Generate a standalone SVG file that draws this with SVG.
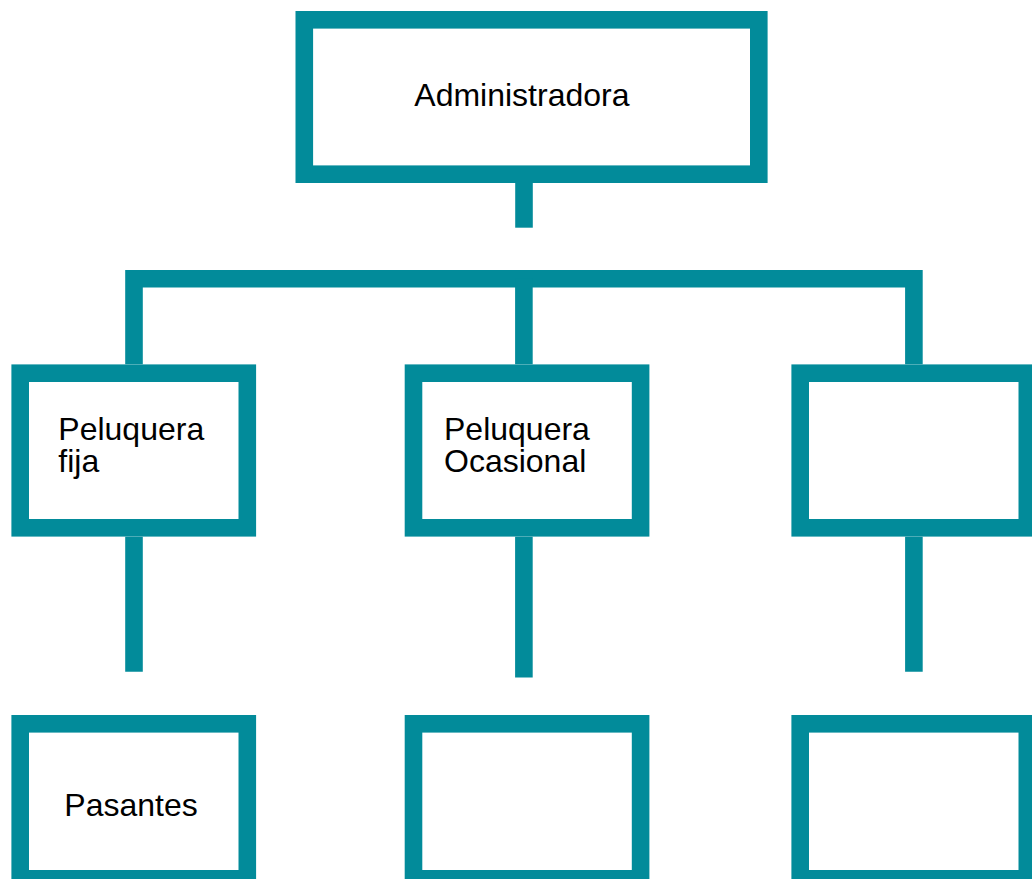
<svg xmlns="http://www.w3.org/2000/svg" width="1032" height="879" viewBox="0 0 1032 879">
<style>
.box{fill:#fff;stroke:#028b9a;stroke-width:17.6}
.con{fill:none;stroke:#028b9a;stroke-width:17.6;stroke-linecap:butt;stroke-linejoin:miter}
.lbl{font-family:"Liberation Sans",Arial,sans-serif;font-size:32px;fill:#000}
</style>
<rect width="1032" height="879" fill="#fff"/>
<g id="connectors">
<path class="con" d="M524 183V227.7"/>
<path class="con" d="M134 364.3V278.8H913.9V364.3"/>
<path class="con" d="M523.9 278.8V364.3"/>
<path class="con" d="M134 536.7V671.7"/>
<path class="con" d="M523.9 536.7V677.5"/>
<path class="con" d="M913.9 536.7V671.7"/>
</g>
<g id="administradora">
<rect class="box" x="304.3" y="19.8" width="454.5" height="154.4"/>
<text class="lbl" x="414.3" y="106">Administradora</text>
</g>
<g id="peluquera-fija">
<rect class="box" x="20.2" y="373.2" width="227.1" height="154.6"/>
<text class="lbl" x="58.3" y="440">Peluquera<tspan x="58.3" dy="32">fija</tspan></text>
</g>
<g id="peluquera-ocasional">
<rect class="box" x="413.5" y="373.2" width="227.1" height="154.6"/>
<text class="lbl" x="444" y="440">Peluquera<tspan x="444" dy="32">Ocasional</tspan></text>
</g>
<g id="box-right-mid">
<rect class="box" x="800.2" y="373.2" width="227.1" height="154.6"/>
</g>
<g id="pasantes">
<rect class="box" x="20.2" y="723.8" width="227.1" height="155"/>
<text class="lbl" x="64.3" y="816">Pasantes</text>
</g>
<g id="box-mid-bottom">
<rect class="box" x="413.5" y="723.8" width="227.1" height="155"/>
</g>
<g id="box-right-bottom">
<rect class="box" x="800.2" y="723.8" width="227.1" height="155"/>
</g>
</svg>
